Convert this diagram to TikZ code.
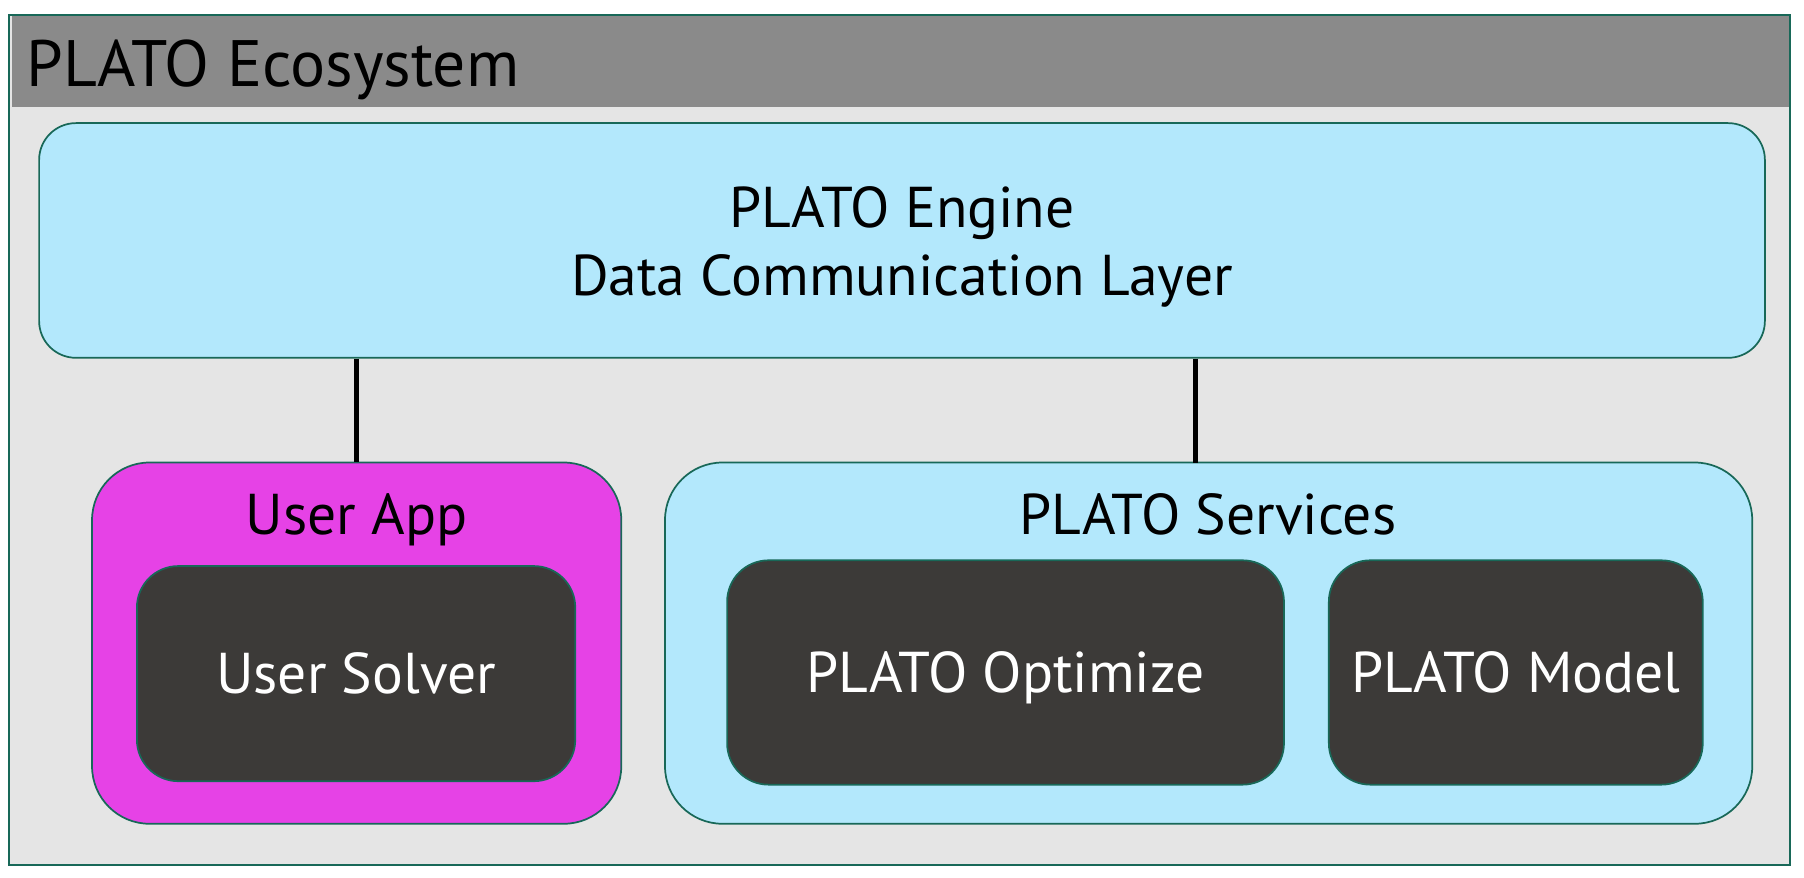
\documentclass[tikz,border=0pt]{standalone}
\usepackage{fontspec}
\setmainfont{PT Sans}
\definecolor{edgegreen}{RGB}{24,104,88}
\definecolor{framegray}{RGB}{229,229,229}
\definecolor{headgray}{RGB}{138,138,138}
\definecolor{layerblue}{RGB}{179,232,252}
\definecolor{appmagenta}{RGB}{230,66,230}
\definecolor{coredark}{RGB}{60,58,56}

\begin{document}
\begin{tikzpicture}[x=1pt,y=-1pt,
    box/.style={rectangle, draw=edgegreen, line width=1.5pt, inner sep=0pt},
    layer/.style={box, fill=layerblue, rounded corners=32pt},
    group/.style={box, rounded corners=50pt},
    core/.style={box, fill=coredark, rounded corners=36pt, text=white,
                 text height=35pt, text depth=0pt, font=\fontsize{50}{59}\selectfont},
    title/.style={anchor=base, inner sep=0pt, font=\fontsize{50}{59}\selectfont},
    link/.style={line width=4pt, black}]
    \useasboundingbox (0,0) rectangle (1568,763);

    % outer frame and header
    \node[box, fill=framegray, minimum width=1548pt, minimum height=739pt] (eco) at (782,382.5) {};
    \node[fill=headgray, inner sep=0pt, minimum width=1545pt, minimum height=79pt, anchor=north west] (head) at (10,14) {};
    \node[anchor=base west, inner sep=0pt, font=\fontsize{57}{66}\selectfont] (ecotitle) at (23,75) {PLATO Ecosystem};

    % engine layer
    \node[layer, minimum width=1500pt, minimum height=204pt] (engine) at (784,209) {};
    \node[title, align=center] (enginetext) at (784,257) {PLATO Engine\\Data Communication Layer};

    % user side
    \node[group, fill=appmagenta, minimum width=460pt, minimum height=314pt] (userapp) at (310,559) {};
    \node[title] (apptitle) at (310,465) {User App};
    \node[core, minimum width=381pt, minimum height=187pt] (solver) at (309.5,585.5) {User Solver};

    % services side
    \node[group, fill=layerblue, minimum width=945pt, minimum height=314pt] (services) at (1050.5,559) {};
    \node[title] (svctitle) at (1050,465) {PLATO Services};
    \node[core, minimum width=484pt, minimum height=195pt] (optimize) at (874,584.5) {PLATO Optimize};
    \node[core, minimum width=325pt, minimum height=195pt] (model) at (1317.5,584.5) {PLATO Model};

    % links to the engine
    \coordinate (svcin) at (1039,402);
    \draw[link] (engine.south -| userapp.north) -- (userapp.north);
    \draw[link] (engine.south -| svcin) -- (svcin);
\end{tikzpicture}
\end{document}
